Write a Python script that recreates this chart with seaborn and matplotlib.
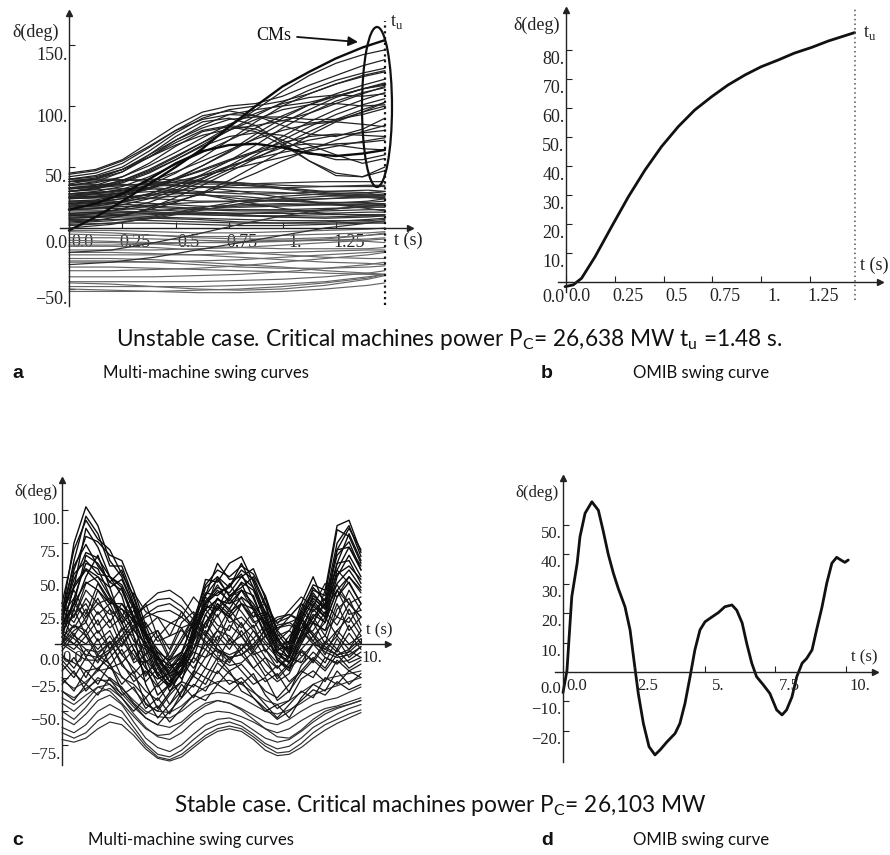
import numpy as np
import pandas as pd
import matplotlib
matplotlib.use("Agg")
import matplotlib.pyplot as plt
import seaborn as sns
from matplotlib.patches import Ellipse
from matplotlib.transforms import ScaledTranslation

# ---------------- data ----------------
T_U = 1.48
# smooth, strongly rising curves (critical machines) - finer time grid
T_A13 = [0.0, 0.125, 0.25, 0.375, 0.5, 0.625, 0.75, 0.875, 1.0, 1.125, 1.25, 1.375, 1.48]
A_BOLD = [
    [-2, 9, 22, 36, 50, 65, 83, 100, 116, 128, 139, 148, 154],
    [15, 20, 28, 40, 53, 63, 68, 69, 66, 61, 59, 61, 64],
]
A_RISING = [
    [45, 48, 56, 70, 84, 95, 100, 102, 108, 117, 125, 133, 138],
    [40, 43, 50, 63, 78, 90, 97, 100, 104, 110, 118, 125, 129],
    [38, 40, 46, 58, 72, 84, 93, 97, 100, 103, 108, 114, 118],
    [42, 45, 53, 66, 80, 92, 96, 92, 84, 77, 75, 81, 90],
    [35, 38, 46, 60, 75, 87, 90, 84, 70, 55, 43, 42, 50],
    [33, 35, 42, 53, 67, 79, 83, 79, 68, 55, 45, 42, 47],
    [30, 32, 38, 46, 56, 67, 75, 78, 76, 68, 60, 53, 57],
    [32, 34, 39, 47, 58, 70, 83, 97, 112, 125, 135, 142, 146],
    [25, 26, 29, 35, 45, 58, 72, 87, 100, 110, 118, 124, 128],
    [22, 23, 27, 32, 40, 51, 63, 77, 90, 101, 110, 117, 122],
    [20, 21, 24, 28, 35, 44, 55, 68, 82, 94, 104, 111, 115],
    [28, 30, 34, 42, 52, 62, 72, 82, 92, 101, 108, 114, 117],
    [15, 16, 19, 24, 31, 40, 51, 63, 75, 87, 97, 105, 111],
    [10, 12, 16, 21, 29, 38, 48, 60, 72, 83, 93, 101, 106],
    [30, 33, 39, 48, 59, 70, 80, 89, 97, 101, 102, 100, 101],
    [26, 28, 32, 38, 46, 55, 64, 73, 80, 85, 87, 85, 83],
    [20, 22, 26, 32, 40, 48, 56, 63, 70, 75, 77, 76, 75],
    [35, 37, 42, 51, 62, 74, 85, 94, 102, 107, 109, 108, 110],
    [5, 6, 10, 16, 25, 35, 46, 57, 68, 79, 89, 97, 103],
    [12, 13, 15, 18, 22, 28, 36, 45, 55, 64, 72, 79, 84],
    [25, 26, 29, 33, 38, 43, 48, 53, 58, 63, 67, 71, 74],
    [18, 19, 22, 28, 35, 43, 51, 57, 62, 66, 69, 70, 72],
    [8, 9, 11, 15, 21, 29, 39, 51, 63, 76, 87, 95, 100],
    [36, 40, 48, 60, 72, 82, 89, 91, 91, 89, 89, 93, 98],
    [30, 32, 37, 45, 56, 68, 80, 92, 103, 113, 121, 127, 131],
    [24, 25, 28, 33, 41, 51, 62, 74, 86, 97, 107, 114, 119],
    [38, 41, 48, 58, 68, 76, 81, 84, 88, 94, 102, 110, 116],
    [17, 18, 21, 26, 33, 41, 50, 58, 66, 72, 76, 78, 80],
    [44, 47, 55, 67, 80, 89, 93, 92, 88, 86, 88, 95, 103],
    [28, 29, 31, 35, 40, 47, 55, 62, 67, 69, 68, 65, 64],
    [40, 42, 48, 58, 70, 80, 84, 81, 72, 62, 56, 56, 60],
]
# flatter curves - coarser time grid
T_A9 = [0.0, 0.2, 0.4, 0.6, 0.8, 1.0, 1.2, 1.4, 1.48]
A_MIDDLE = [
    [40, 40, 38, 36, 36, 37, 38, 38, 38],
    [35, 36, 35, 34, 33, 33, 34, 35, 35],
    [30, 32, 33, 30, 28, 28, 30, 31, 30],
    [28, 30, 32, 28, 24, 22, 24, 26, 27],
    [25, 26, 24, 22, 22, 23, 24, 25, 25],
    [22, 22, 20, 18, 17, 18, 19, 20, 20],
    [20, 20, 18, 16, 15, 15, 16, 17, 17],
    [18, 18, 17, 15, 14, 14, 14, 15, 15],
    [15, 16, 15, 13, 12, 12, 12, 13, 13],
    [12, 13, 12, 11, 10, 10, 11, 11, 11],
    [10, 11, 12, 12, 11, 9, 8, 9, 10],
    [8, 9, 9, 8, 7, 6, 6, 6, 7],
    [6, 7, 8, 7, 5, 4, 4, 5, 5],
    [4, 6, 10, 16, 22, 26, 28, 28, 30],
    [2, 4, 8, 14, 20, 24, 26, 27, 28],
    [0, 3, 9, 15, 18, 19, 20, 22, 24],
    [33, 35, 36, 34, 30, 25, 20, 16, 14],
    [26, 28, 30, 28, 22, 16, 12, 10, 10],
    [-20, -18, -12, -5, 3, 10, 15, 18, 20],
    [-30, -28, -24, -18, -12, -6, 0, 4, 6],
    [38, 39, 40, 39, 37, 35, 34, 34, 34],
    [32, 34, 37, 38, 36, 32, 28, 26, 26],
    [24, 25, 27, 29, 30, 29, 27, 25, 24],
    [19, 21, 25, 27, 26, 23, 20, 19, 19],
    [16, 17, 19, 21, 22, 22, 21, 21, 22],
    [14, 14, 13, 12, 12, 13, 15, 18, 19],
    [11, 12, 14, 17, 19, 20, 19, 18, 18],
    [9, 10, 11, 11, 10, 9, 9, 10, 11],
    [7, 7, 6, 5, 4, 4, 5, 7, 8],
    [3, 4, 4, 3, 2, 2, 3, 4, 4],
    [27, 29, 34, 38, 37, 33, 29, 27, 27],
    [21, 23, 28, 33, 35, 33, 30, 29, 30],
]
A_LOWER = [
    [-2, -2, -3, -4, -4, -3, -2, -1, 0],
    [-5, -6, -6, -7, -7, -6, -5, -4, -3],
    [-8, -8, -9, -10, -11, -11, -10, -9, -8],
    [-10, -11, -12, -12, -12, -11, -9, -6, -4],
    [-12, -12, -13, -15, -16, -17, -17, -17, -16],
    [-15, -15, -16, -18, -20, -22, -24, -25, -25],
    [-18, -18, -18, -17, -16, -14, -12, -10, -9],
    [-20, -20, -21, -22, -24, -26, -28, -29, -30],
    [-22, -22, -22, -22, -21, -20, -19, -18, -18],
    [-25, -25, -26, -28, -30, -32, -35, -37, -38],
    [-28, -28, -28, -27, -26, -24, -22, -20, -19],
    [-32, -32, -33, -34, -35, -36, -37, -38, -38],
    [-35, -35, -34, -33, -31, -28, -25, -22, -20],
    [-40, -40, -40, -39, -38, -36, -33, -30, -28],
    [-44, -44, -44, -44, -43, -42, -40, -37, -35],
    [-48, -48, -48, -48, -47, -46, -44, -40, -38],
    [-52, -52, -52, -51, -50, -48, -45, -41, -38],
    [-50, -51, -52, -53, -53, -52, -50, -47, -45],
    [-3, -4, -6, -8, -9, -9, -8, -6, -5],
    [-14, -14, -13, -12, -11, -10, -10, -11, -12],
    [-27, -27, -28, -30, -32, -33, -33, -32, -31],
    [-45, -46, -48, -50, -51, -50, -47, -42, -39],
]
A_XTICKS = [0.0, 0.25, 0.5, 0.75, 1.0, 1.25]
A_XLABELS = ["0.0", "0.25", "0.5", "0.75", "1.", "1.25"]
A_YTICKS = [150, 100, 50, 0, -50]
A_YLABELS = ["150.", "100.", "50.", "0.0", "\u221250."]

T_B = [-0.005, 0.037, 0.08, 0.149, 0.234, 0.32, 0.405, 0.49, 0.576, 0.66,
       0.747, 0.83, 0.918, 1.0, 1.09, 1.17, 1.26, 1.345, 1.48]
D_B = [-1.6, -1.0, 1.3, 8.7, 19.1, 29.4, 38.6, 46.7, 53.6, 59.3,
       63.9, 67.9, 71.4, 74.2, 76.6, 78.9, 80.9, 83.1, 86.0]
B_XTICKS = [0.0, 0.25, 0.5, 0.75, 1.0, 1.25]
B_XLABELS = ["0.0", "0.25", "0.5", "0.75", "1.", "1.25"]
B_YTICKS = [0, 10, 20, 30, 40, 50, 60, 70, 80]
B_YLABELS = ["0.0", "10.", "20.", "30.", "40.", "50.", "60.", "70.", "80."]

T_C = [0.0, 0.4, 0.8, 1.2, 1.6, 2.0, 2.4, 2.8, 3.2, 3.6, 4.0, 4.4, 4.8,
       5.2, 5.6, 6.0, 6.4, 6.8, 7.2, 7.6, 8.0, 8.4, 8.8, 9.2, 9.6, 10.0]
C_UPPER = [
    [22, 75, 102, 88, 62, 50, 28, 0, -22, -30, -18, 12, 42, 50, 42, 55, 48, 28, 4, -8, 18, 42, 32, 75, 88, 65],
    [18, 62, 95, 82, 58, 58, 34, 8, -15, -35, -28, 2, 36, 60, 48, 50, 56, 34, 8, -4, 24, 40, 36, 85, 80, 60],
    [15, 55, 80, 76, 66, 62, 40, 14, -8, -24, -20, 14, 48, 46, 60, 65, 46, 22, -2, 2, 30, 50, 28, 70, 86, 70],
    [25, 58, 74, 58, 46, 40, 18, -16, -38, -30, -12, 6, 30, 40, 32, 46, 40, 18, -6, -14, 8, 30, 20, 55, 72, 55],
    [20, 48, 68, 64, 50, 36, 6, -30, -48, -36, -20, -4, 22, 34, 26, 40, 36, 12, -12, -20, 4, 26, 16, 50, 66, 50],
    [10, 44, 56, 50, 42, 48, 28, 6, -10, -22, -16, 10, 32, 42, 38, 50, 42, 24, 2, -6, 18, 36, 28, 60, 62, 45],
    [28, 42, 55, 46, 32, 26, 18, 8, -4, -14, -26, -10, 16, 30, 22, 35, 28, 12, -6, -10, 8, 22, 16, 40, 50, 40],
    [5, 34, 60, 56, 36, 22, 10, 0, -10, -24, -40, -22, 6, 28, 20, 30, 26, 8, -12, -18, 0, 16, 10, 35, 46, 30],
    [15, 30, 46, 40, 30, 30, 16, -2, -10, -16, -14, 6, 26, 33, 30, 40, 30, 16, 0, -4, 12, 28, 20, 45, 55, 42],
    [0, 26, 50, 66, 42, 16, -4, -18, -26, -22, -12, 8, 28, 26, 35, 45, 26, 6, -8, -14, 6, 20, 30, 66, 76, 55],
    [12, 42, 86, 72, 50, 42, 20, -4, -24, -32, -22, 6, 36, 48, 36, 42, 50, 30, 4, -6, 22, 38, 26, 70, 72, 58],
    [8, 30, 66, 60, 46, 55, 30, 6, -16, -28, -20, 4, 30, 38, 42, 60, 42, 20, -2, -10, 16, 32, 22, 60, 82, 62],
    [30, 70, 92, 78, 70, 52, 36, 10, -12, -20, -8, 18, 44, 55, 50, 58, 52, 36, 10, 0, 26, 44, 40, 88, 92, 68],
    [18, 52, 62, 52, 50, 44, 26, 4, -6, -12, -6, 16, 38, 36, 44, 52, 34, 14, -4, -2, 20, 34, 26, 52, 58, 48],
]
C_MIDDLE = [
    [20, 12, 26, 8, 18, -2, 12, -8, 6, -12, 2, 16, 6, 22, 2, 16, -4, 12, -6, 6, 16, 2, 20, 6, 26, 10],
    [15, 26, 6, 18, -4, 12, -12, 2, -18, -6, 12, -4, 16, 2, 22, 6, 14, -6, 6, -14, 2, 20, 6, 30, 10, 20],
    [10, 22, 30, 14, 26, 2, -8, -22, -14, -28, -10, 2, 22, 10, 26, 14, 4, -10, -18, -8, 12, 16, 0, 26, 34, 14],
    [5, 14, 10, 24, 12, 20, 2, -4, -14, -18, -6, 6, 26, 14, 10, 30, 18, 2, -6, -14, 6, 10, 24, 14, 30, 20],
    [25, 16, 34, 22, 30, 12, 6, -12, -22, -12, 2, 20, 12, 30, 16, 20, 10, -4, -14, 2, 20, 6, 16, 40, 22, 25],
    [0, 10, 16, 2, 10, -8, -18, -28, -18, -32, -14, -4, 10, 0, 14, 6, -6, -20, -28, -22, -4, 6, -8, 10, 20, 6],
    [18, 6, 20, 30, 22, 26, 12, 16, 2, 6, 10, 2, 16, 26, 20, 12, 24, 16, 6, 10, 2, 16, 10, 20, 16, 30],
    [-5, 6, 0, 10, -4, 6, -14, -8, -24, -14, -6, -14, 0, 10, 6, -4, 10, 0, -10, -18, -10, 0, 6, -4, 14, 0],
    [12, 30, 20, 34, 16, 30, 20, 6, 10, -4, 16, 24, 12, 34, 24, 30, 16, 20, 2, 10, 24, 16, 30, 20, 40, 25],
    [8, 0, 10, -8, 2, -14, -4, -24, -10, -28, -20, -6, -10, 6, -4, 10, -4, -14, -24, -14, -4, -14, 0, 10, 0, 6],
    [22, 34, 16, 40, 26, 16, 30, 12, 20, 6, 24, 12, 30, 20, 34, 24, 12, 24, 16, 20, 30, 24, 34, 44, 30, 35],
    [2, -4, 6, -4, 6, -8, 0, -14, -6, -18, -10, 0, -4, 10, 0, 6, -8, -4, -18, -10, -14, 0, -4, 6, -4, 10],
    [15, 20, 40, 30, 34, 20, 38, 24, 20, 16, 12, 16, 30, 44, 30, 34, 20, 24, 12, 16, 20, 34, 26, 40, 30, 20],
    [0, 14, 6, -10, -18, -14, -28, -20, -32, -24, -14, -24, -10, -4, -14, 0, -10, -24, -16, -28, -20, -10, -18, -4, -14, -10],
    [5, 0, -8, -10, -4, 6, 18, 30, 38, 40, 34, 22, 8, -4, -10, -8, 0, 10, 18, 22, 18, 8, -2, -8, -6, 2],
    [10, 4, -4, -6, 0, 10, 20, 28, 33, 34, 28, 18, 6, -4, -8, -4, 4, 14, 20, 22, 16, 6, -4, -8, -4, 4],
    [-10, -14, -20, -18, -10, 0, 12, 22, 28, 30, 24, 12, 0, -10, -16, -14, -6, 6, 14, 16, 10, 0, -10, -14, -12, -6],
    [0, -6, -12, -12, -6, 4, 14, 20, 24, 25, 20, 12, 2, -6, -10, -8, -2, 6, 12, 14, 10, 2, -6, -10, -8, -2],
    [-15, -25, -10, -20, -5, -25, -30, -40, -30, -45, -35, -20, -25, -10, -20, -15, -25, -35, -40, -30, -20, -25, -10, -15, -5, -10],
    [-20, -10, -25, -8, -15, -30, -20, -45, -50, -38, -28, -32, -18, -22, -10, -20, -30, -25, -42, -35, -22, -12, -20, -8, -18, -12],
    [-8, -18, -4, -14, 2, -16, -24, -35, -42, -30, -22, -10, -18, 0, -12, -4, -18, -28, -22, -36, -16, -6, -14, 4, -10, -2],
    [30, 20, 45, 50, 35, 15, 25, 0, 10, -10, 5, 20, 35, 25, 45, 30, 20, 35, 10, 20, 30, 15, 40, 55, 45, 30],
    [-25, -35, -20, -30, -15, -35, -45, -55, -60, -50, -40, -30, -35, -20, -30, -25, -35, -45, -55, -45, -35, -40, -25, -30, -20, -25],
    [-30, -20, -35, -25, -30, -40, -50, -40, -55, -45, -30, -40, -25, -30, -20, -35, -40, -50, -45, -55, -40, -30, -35, -20, -30, -22],
    [-12, -22, -30, -18, -26, -38, -32, -48, -40, -52, -36, -24, -30, -14, -22, -30, -22, -38, -48, -42, -26, -20, -28, -12, -20, -15],
    [-35, -42, -30, -38, -25, -32, -44, -52, -46, -58, -48, -38, -42, -30, -36, -28, -40, -48, -56, -50, -42, -34, -38, -28, -34, -30],
    [25, 40, 22, 45, 30, 42, 20, 30, 5, 15, 20, 35, 25, 50, 35, 40, 25, 30, 15, 25, 35, 28, 45, 35, 50, 38],
    [-2, 8, -10, 4, -16, -4, -22, -12, -30, -20, -8, -18, -4, -12, 4, -8, -18, -10, -26, -16, -6, -12, 2, -6, 8, -4],
]
C_LOWER = [
    [-55, -60, -52, -42, -38, -45, -58, -70, -77, -80, -75, -67, -60, -56, -55, -58, -64, -70, -73, -71, -65, -58, -52, -48, -45, -42],
    [-62, -66, -60, -50, -45, -50, -62, -74, -82, -84, -79, -71, -64, -60, -58, -61, -67, -74, -78, -76, -70, -62, -57, -52, -48, -45],
    [-66, -70, -66, -57, -52, -55, -65, -76, -84, -86, -82, -75, -68, -63, -61, -63, -69, -76, -81, -80, -74, -66, -60, -56, -52, -49],
    [-71, -73, -70, -63, -58, -60, -68, -78, -85, -87, -84, -77, -70, -65, -63, -65, -71, -79, -83, -82, -77, -70, -64, -59, -55, -51],
    [-50, -56, -47, -36, -33, -40, -52, -62, -69, -71, -66, -58, -52, -50, -51, -54, -58, -63, -66, -63, -57, -52, -48, -46, -43, -40],
    [-44, -50, -42, -32, -30, -37, -47, -55, -60, -62, -58, -50, -44, -42, -44, -48, -53, -58, -60, -56, -50, -45, -42, -40, -36, -32],
    [-35, -40, -33, -27, -27, -33, -42, -50, -54, -55, -50, -43, -38, -36, -37, -40, -45, -50, -52, -49, -44, -38, -34, -31, -28, -25],
    [-27, -33, -28, -20, -18, -24, -34, -44, -50, -51, -46, -38, -32, -28, -27, -30, -36, -42, -45, -42, -36, -30, -26, -24, -22, -20],
    [-40, -45, -38, -32, -35, -44, -54, -63, -68, -67, -60, -52, -46, -42, -44, -49, -56, -63, -69, -70, -64, -56, -50, -47, -45, -42],
]
C_XTICKS = [0.0, 2.5, 5.0, 7.5, 10.0]
C_XLABELS = ["0.0", "2.5", "5.", "7.5", "10."]
C_YTICKS = [100, 75, 50, 25, 0, -25, -50, -75]
C_YLABELS = ["100.", "75.", "50.", "25.", "0.0", "\u221225.", "\u221250.", "\u221275."]

T_D = [0.0, 0.14, 0.31, 0.5, 0.6, 0.78, 1.02, 1.25, 1.42, 1.6, 1.78, 1.95, 2.19,
       2.37, 2.52, 2.66, 2.84, 3.04, 3.25, 3.43, 3.67, 3.96, 4.13, 4.31, 4.49,
       4.66, 4.84, 5.02, 5.26, 5.49, 5.72, 5.97, 6.14, 6.33, 6.49, 6.67, 6.84,
       7.08, 7.31, 7.55, 7.74, 7.9, 8.09, 8.26, 8.45, 8.61, 8.8, 8.96, 9.15,
       9.32, 9.5, 9.67, 9.85, 9.96, 10.08]
D_D = [-7.0, 0.5, 25.6, 37.0, 46.0, 54.0, 57.9, 55.0, 48.0, 40.0, 33.6, 28.5, 22.2,
       14.3, 3.0, -7.3, -17.5, -25.4, -28.2, -26.5, -23.8, -20.9, -17.5, -10.7, -1.6,
       7.5, 14.3, 17.1, 18.7, 20.2, 22.2, 22.8, 21.0, 16.7, 9.8, 3.0, -1.6,
       -4.4, -7.3, -12.9, -14.6, -12.9, -8.5, -1.6, 3.0, 4.6, 7.5, 14.3, 22.0,
       30.2, 37.0, 39.0, 37.9, 37.3, 38.1]
D_XTICKS = [0.0, 2.5, 5.0, 7.5, 10.0]
D_XLABELS = ["0.0", "2.5", "5.", "7.5", "10."]
D_YTICKS = [50, 40, 30, 20, 10, 0, -10, -20]
D_YLABELS = ["50.", "40.", "30.", "20.", "10.", "0.0", "\u221210.", "\u221220."]

# ---------------- style ----------------
sns.set_style("white")
plt.rcParams["font.family"] = ["Liberation Serif", "DejaVu Serif"]
plt.rcParams["axes.edgecolor"] = "#222222"
INK = "#222222"

W, H = 890, 855
fig = plt.figure(figsize=(W / 100, H / 100), dpi=100)


def px_axes(box, t0_px, t_scale, y0_px, y_scale):
    x0, x1, y0, y1 = box
    ax = fig.add_axes([x0 / W, 1 - y1 / H, (x1 - x0) / W, (y1 - y0) / H])
    lims = ((x0 - t0_px) / t_scale, (x1 - t0_px) / t_scale,
            (y0_px - y1) / y_scale, (y0_px - y0) / y_scale)
    return ax, lims


def ftext(x, y, s, **kw):
    return fig.text(x / W, 1 - y / H, s, **kw)


def curves_df(t, groups):
    rows = []
    for gi, curve in enumerate(groups):
        for ti, v in zip(t, curve):
            rows.append((gi, ti, v))
    return pd.DataFrame(rows, columns=["curve", "t", "delta"])


def draw_group(ax, t, groups, color, lw):
    sns.lineplot(data=curves_df(t, groups), x="t", y="delta", units="curve",
                 estimator=None, color=color, linewidth=lw, ax=ax, legend=False)


def style(ax, lims, xt, xl, yt, yl, fs, below, dx, dy, dy0):
    ax.set_xlim(lims[0], lims[1])
    ax.set_ylim(lims[2], lims[3])
    for s in ["top", "right"]:
        ax.spines[s].set_visible(False)
    for s in ["left", "bottom"]:
        ax.spines[s].set_position(("data", 0))
        ax.spines[s].set_linewidth(1.0)
        ax.spines[s].set_color(INK)
    ax.set_xlabel("")
    ax.set_ylabel("")
    ax.grid(False)
    ax.set_xticks(xt)
    ax.set_xticklabels(xl)
    ax.set_yticks(yt)
    ax.set_yticklabels(yl)
    ax.tick_params(axis="both", direction="in", length=4, width=0.8,
                   colors=INK, labelsize=fs, bottom=True, left=True)
    ax.tick_params(axis="x", pad=4)
    ax.tick_params(axis="y", pad=1)
    ax.set_axisbelow(below)
    ax.plot(1, 0, ">", color=INK, ms=5, transform=ax.get_yaxis_transform(), clip_on=False)
    ax.plot(0, 1, "^", color=INK, ms=5, transform=ax.get_xaxis_transform(), clip_on=False)
    ax.set_xlim(lims[0], lims[1])
    ax.set_ylim(lims[2], lims[3])
    for lab in ax.get_xticklabels():
        lab.set_transform(lab.get_transform() + ScaledTranslation(dx / 100, 0, fig.dpi_scale_trans))
    for lab, v in zip(ax.get_yticklabels(), yt):
        off = dy0 if v == 0 else dy
        lab.set_transform(lab.get_transform() + ScaledTranslation(0, -off / 100, fig.dpi_scale_trans))


# ---------------- panel a ----------------
axA, limA = px_axes((60, 410, 13, 306), 69, 213.5, 228, 1.22)
draw_group(axA, T_A9, A_LOWER, "#666666", 0.85)
draw_group(axA, T_A9, A_MIDDLE, "#303030", 0.9)
draw_group(axA, T_A13, A_RISING, "#222222", 0.9)
draw_group(axA, T_A13, A_BOLD, "#0d0d0d", 1.7)
axA.vlines(T_U, -63, 170, colors="#111111", linestyles=(0, (1, 1.6)), linewidth=1.6)
axA.add_patch(Ellipse(((377 - 69) / 213.5, (228 - 107) / 1.22), 30 / 213.5, 160 / 1.22,
                      fill=False, lw=1.6, ec="#111111", zorder=3))
axA.annotate("CMs", xy=((358 - 69) / 213.5, (228 - 42) / 1.22),
             xytext=((291 - 69) / 213.5, (228 - 35) / 1.22), ha="right", va="center",
             fontsize=13, color="#111111",
             arrowprops=dict(arrowstyle="-|>", color="#111111", lw=1.3, mutation_scale=14,
                             shrinkA=2, shrinkB=0))
style(axA, limA, A_XTICKS, A_XLABELS, A_YTICKS, A_YLABELS, 13, True, 13, 9, 14)
ftext(36, 32, "\u03b4(deg)", ha="center", va="center", fontsize=13, color=INK)
ftext(397, 22, r"t$_\mathregular{u}$", ha="center", va="center", fontsize=13, color=INK)
ftext(408, 240, "t (s)", ha="center", va="center", fontsize=13, color=INK)

# ---------------- panel b ----------------
axB, limB = px_axes((558, 880, 10, 292), 566, 195, 282, 2.9)
sns.lineplot(x=T_B, y=D_B, color="#111111", linewidth=2.0, ax=axB, estimator=None)
axB.vlines(T_U, -6.2, 94.5, colors="#555555", linestyles=(0, (1, 2)), linewidth=1.1, clip_on=False)
style(axB, limB, B_XTICKS, B_XLABELS, B_YTICKS, B_YLABELS, 13, False, 13, 7, 13)
ftext(537, 25, "\u03b4(deg)", ha="center", va="center", fontsize=13, color=INK)
ftext(870, 33, r"t$_\mathregular{u}$", ha="center", va="center", fontsize=13, color=INK)
ftext(874, 265, "t (s)", ha="center", va="center", fontsize=13, color=INK)

# ---------------- panel c ----------------
axC, limC = px_axes((55, 388, 480, 765), 62, 29.9, 644, 1.345)
draw_group(axC, T_C, C_LOWER, "#2e2e2e", 0.85)
draw_group(axC, T_C, C_MIDDLE, "#181818", 0.9)
draw_group(axC, T_C, C_UPPER, "#0d0d0d", 1.0)
style(axC, limC, C_XTICKS, C_XLABELS, C_YTICKS, C_YLABELS, 12, True, 11, 8, 15)
ftext(36, 492, "\u03b4(deg)", ha="center", va="center", fontsize=12, color=INK)
ftext(379, 630, "t (s)", ha="center", va="center", fontsize=12, color=INK)

# ---------------- panel d ----------------
axD, limD = px_axes((555, 875, 478, 762), 563, 28.3, 672, 2.94)
sns.lineplot(x=T_D, y=D_D, color="#111111", linewidth=2.0, ax=axD, estimator=None)
style(axD, limD, D_XTICKS, D_XLABELS, D_YTICKS, D_YLABELS, 12, False, 14, 7, 15)
ftext(537, 493, "\u03b4(deg)", ha="center", va="center", fontsize=12, color=INK)
ftext(864, 657, "t (s)", ha="center", va="center", fontsize=12, color=INK)

# ---------------- captions ----------------
CAP = ["Lato", "DejaVu Sans"]
renderer = fig.canvas.get_renderer()


def fit(txt, target_w):
    bb = txt.get_window_extent(renderer)
    txt.set_fontsize(txt.get_fontsize() * target_w / bb.width)
    return txt.get_fontsize()


t1 = ftext(449, 340, r"Unstable case. Critical machines power P$_\mathregular{C}$= 26,638 MW t$_\mathregular{u}$ =1.48 s.",
           ha="center", va="center", fontsize=15, family=CAP, color="#111111")
fs_main = fit(t1, 670)
ftext(440, 805, r"Stable case. Critical machines power P$_\mathregular{C}$= 26,103 MW",
      ha="center", va="center", fontsize=fs_main, family=CAP, color="#111111")
fs_sub = None
for yy, l1, l2, x1 in [(373, "a", "b", 103), (840, "c", "d", 88)]:
    ftext(12, yy, l1, ha="left", va="center", fontsize=14, weight="bold",
          family=["Liberation Sans", "DejaVu Sans"], color="#111111")
    ftext(541, yy, l2, ha="left", va="center", fontsize=14, weight="bold",
          family=["Liberation Sans", "DejaVu Sans"], color="#111111")
    s1 = ftext(x1, yy, "Multi-machine swing curves", ha="left", va="center", fontsize=12,
               family=CAP, color="#111111")
    if fs_sub is None:
        fs_sub = fit(s1, 205)
    s1.set_fontsize(fs_sub)
    ftext(633, yy, "OMIB swing curve", ha="left", va="center", fontsize=fs_sub,
          family=CAP, color="#111111")

fig.savefig("out.png", dpi=100)
